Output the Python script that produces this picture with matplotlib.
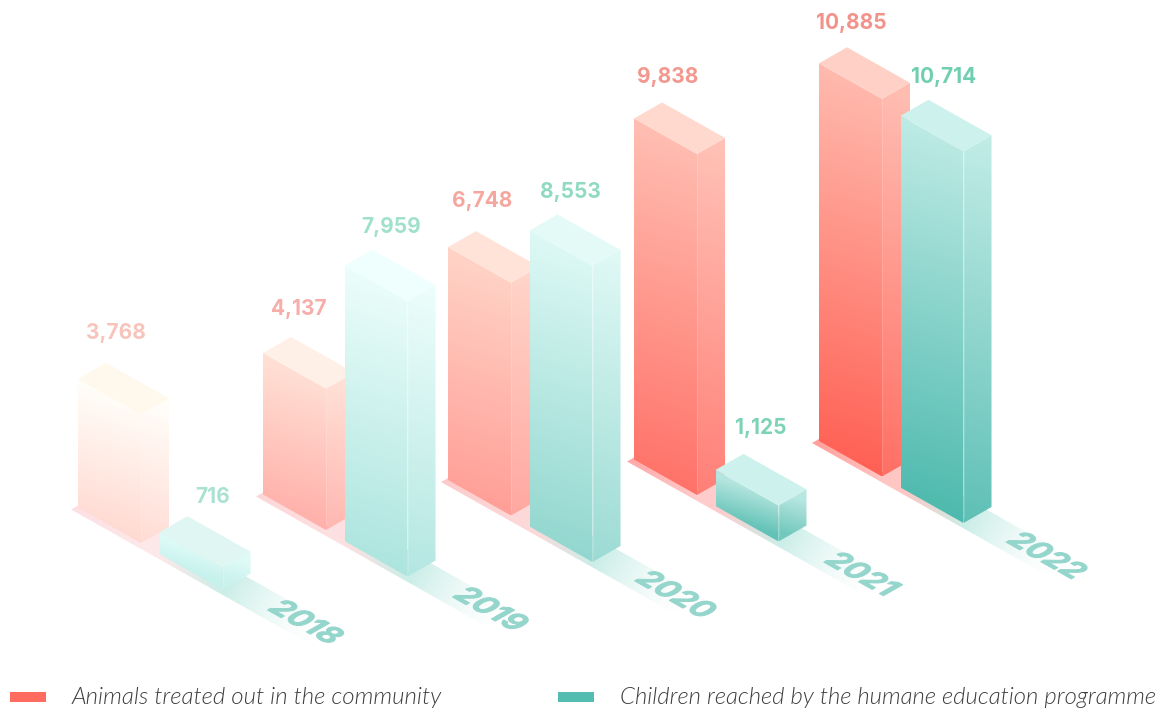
import numpy as np
import matplotlib
matplotlib.use("Agg")
import matplotlib.pyplot as plt
from matplotlib.colors import to_rgba
from matplotlib.patches import Polygon, Rectangle
from matplotlib.patheffects import AbstractPathEffect
from matplotlib.transforms import Affine2D

# ---- data ----
years = ["2018", "2019", "2020", "2021", "2022"]
animals = [3768, 4137, 6748, 9838, 10885]
children = [716, 7959, 8553, 1125, 10714]
series_names = ["Animals treated out in the community",
                "Children reached by the humane education programme"]

# ---- layout (pixels of the 1166x713 canvas) ----
W, H = 1166, 713
front_x = [141, 326, 511, 697, 882]      # front-bottom corner of each red bar
front_y = [543, 530, 515.5, 495, 476.5]
A = np.array([63.0, 35.5])               # width edge of a bar on the floor
B = np.array([28.0, -16.0])              # depth edge of a bar on the floor
TEAL_SHIFT = np.array([81.5, 46.5])
red_label_off = [(10, -30), (8, -28), (6, -30), (6, -25), (4, -24)]
teal_label_off = [(25, -19), (19, -23), (13, -22), (17, -26), (15, -23)]

# ---- styles ----
red_top = ["#fffdf8", "#ffdfd4", "#ffd2c6", "#ffbdb1", "#ffb9ad"]
red_bot = ["#ffd8d0", "#ffaea8", "#ff9c94", "#ff6d64", "#ff5a4e"]
red_cap = ["#fff8ec", "#fff0e7", "#ffe3d8", "#ffd8ce", "#ffd0c6"]
red_txt = ["#f7c4bc", "#f6aeaa", "#f5a79f", "#f2988e", "#f2928a"]
red_floor = ["#fde8ea", "#fde0e1", "#fdd8d8", "#ffcccc", "#ffc6c3"]
red_tip = ["#fde0e3", "#fdd6d7", "#fdcaca", "#ffa8a8", "#ff9f9b"]
teal_top = ["#dcfaf6", "#eafdfa", "#dcf8f4", "#b4e5df", "#bceae4"]
teal_bot = ["#c6f1ec", "#a9e3dd", "#8dd5cd", "#62c2b6", "#46b6aa"]
teal_cap = ["#e0f6f2", "#effffd", "#e4faf7", "#cdf1ec", "#cdf1ec"]
teal_txt = ["#aae2d1", "#a0e1ca", "#90dbc0", "#7dd3b8", "#6fcfb0"]
floor_teal = "#cbeee8"
year_col = "#94d5cc"
legend_red, legend_teal = "#ff6b5e", "#52bdb0"


def height_px(v):
    return 0.035 * v - 3.3


class FloorShear(AbstractPathEffect):
    """Lays a text flat on the isometric floor, around its anchor point."""
    def __init__(self, ax, xy, stroke):
        super().__init__()
        self.ax, self.xy, self.stroke = ax, xy, stroke

    def draw_path(self, renderer, gc, tpath, affine, rgbFace=None):
        cx, cy = self.ax.transData.transform(self.xy)
        m = (Affine2D().translate(-cx, -cy)
             + Affine2D.from_values(0.871, -0.491, 0.868, 0.496, 0, 0)
             + Affine2D().translate(cx, cy))
        g = renderer.new_gc()
        g.copy_properties(gc)
        g.set_linewidth(self.stroke)
        g.set_foreground(rgbFace)
        renderer.draw_path(g, tpath, affine + m, rgbFace)
        g.restore()


def grad_poly(ax, verts, p0, p1, stops, cols, z):
    verts = np.asarray(verts, float)
    p0, p1 = np.asarray(p0, float), np.asarray(p1, float)
    x0, y0 = verts.min(axis=0)
    x1, y1 = verts.max(axis=0)
    nx, ny = max(int((x1 - x0) * 2), 2), max(int((y1 - y0) * 2), 2)
    X, Y = np.meshgrid(np.linspace(x0, x1, nx), np.linspace(y0, y1, ny))
    d = p1 - p0
    t = ((X - p0[0]) * d[0] + (Y - p0[1]) * d[1]) / (d @ d)
    rgba = np.array([to_rgba(c) for c in cols])
    img = np.dstack([np.interp(t, stops, rgba[:, i]) for i in range(4)])
    im = ax.imshow(img, extent=(x0, x1, y1, y0), origin="upper", aspect="auto",
                   interpolation="bilinear", zorder=z)
    im.set_clip_path(Polygon(verts, closed=True, transform=ax.transData))
    return im


def mix_white(c, k):
    r = np.array(to_rgba(c))
    r[:3] = r[:3] + (1 - r[:3]) * k
    return tuple(r)


def draw_bar(ax, F, h, top, bot, cap, z):
    F = np.asarray(F, float)
    up = np.array([0, -h])
    LB, RB = F - A, F + B
    FT, LT, RT = F + up, F - A + up, F + B + up
    tilt = np.array([-0.3 * h, h])
    mid = (LT + FT) / 2
    grad_poly(ax, [LB, F, FT, LT], mid, mid + tilt, [0, 1], [top, bot], z)
    mid_r = (FT + RT) / 2
    grad_poly(ax, [F, RB, RT, FT], mid_r, mid_r + tilt, [0, 1],
              [mix_white(top, 0.06), mix_white(bot, 0.1)], z)
    ax.add_patch(Polygon([LT, FT, RT, FT - A + B], closed=True, fc=cap, ec="none", zorder=z))
    ax.plot([F[0], FT[0]], [F[1] - 6, FT[1]], color="white", alpha=0.16, lw=0.7, zorder=z + 0.1)
    return LT + B


fig = plt.figure(figsize=(W / 100, H / 100), dpi=100, facecolor="white")
ax = fig.add_axes([0, 0, 1, 1])
ax.set_xlim(0, W)
ax.set_ylim(H, 0)
ax.set_autoscale_on(False)
ax.axis("off")

for i, yr in enumerate(years):
    Fr = np.array([front_x[i], front_y[i]], float)
    Ft = Fr + TEAL_SHIFT
    z = 2 + i * 3

    # floor strip running under both bars and out towards the year
    tip = Fr - A + np.array([-7, 2])
    dirn = A / A[0]
    low_at = lambda x: tip + dirn * (x - tip[0])
    end = low_at(Ft[0] + 84)
    stops_x = [tip[0], Fr[0], Ft[0] - A[0], Ft[0], Ft[0] + 84]
    stops = [(x - tip[0]) / (end[0] - tip[0]) for x in stops_x]
    fade = to_rgba("#e8f8f5", 0)
    grad_poly(ax, [tip, end, end + B, tip + B],
              tip, end, stops,
              [red_tip[i], red_floor[i], red_floor[i], floor_teal, fade], z)

    apex_r = draw_bar(ax, Fr, height_px(animals[i]), red_top[i], red_bot[i], red_cap[i], z + 0.5)
    apex_t = draw_bar(ax, Ft, height_px(children[i]), teal_top[i], teal_bot[i], teal_cap[i], z + 1)

    ax.text(apex_r[0] + red_label_off[i][0], apex_r[1] + red_label_off[i][1],
            f"{animals[i]:,}", family="Inter", weight=700, fontsize=15,
            color=red_txt[i], ha="center", va="center", zorder=40)
    ax.text(apex_t[0] + teal_label_off[i][0], apex_t[1] + teal_label_off[i][1],
            f"{children[i]:,}", family="Inter", weight=700, fontsize=15,
            color=teal_txt[i], ha="center", va="center", zorder=40)

    yx, yy = Ft[0] + 82, Ft[1] + 33.5
    t = ax.text(yx, yy, yr, family="Inter", weight=700, fontsize=22, color=year_col,
                ha="center", va="center", zorder=41)
    t.set_path_effects([FloorShear(ax, (yx, yy), 0.7)])

# legend
ax.add_patch(Rectangle((10, 692), 36, 10, fc=legend_red, ec="none", zorder=50))
ax.add_patch(Rectangle((558, 692), 36, 10, fc=legend_teal, ec="none", zorder=50))
ax.text(72, 697.5, series_names[0], family="Lato", style="italic", weight=300, fontsize=17.3,
        color="#3d3d3d", ha="left", va="center", zorder=50)
ax.text(620, 697.5, series_names[1], family="Lato", style="italic", weight=300, fontsize=17.17,
        color="#3d3d3d", ha="left", va="center", zorder=50)

fig.savefig("out.png", dpi=100, facecolor="white")
